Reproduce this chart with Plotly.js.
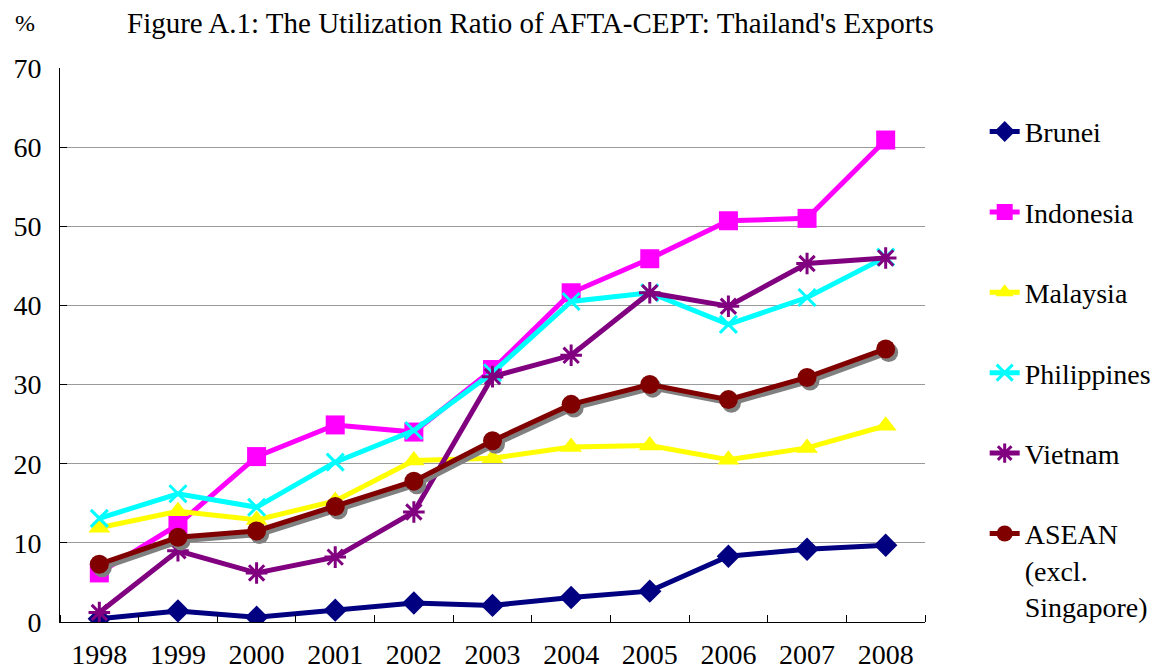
<!DOCTYPE html>
<html>
<head>
<meta charset="utf-8">
<script src="https://cdn.plot.ly/plotly-3.0.1.min.js"></script>
<style>
html,body{margin:0;padding:0;background:#fff;}
#chart{width:1165px;height:671px;}
#chart svg text{font-family:'Liberation Serif','Times New Roman',serif !important;}
</style>
</head>
<body>
<div id="chart"></div>
<script>
const years = [1998, 1999, 2000, 2001, 2002, 2003, 2004, 2005, 2006, 2007, 2008];
const brunei      = [0.4, 1.4, 0.6, 1.5, 2.4, 2.1, 3.1, 3.9, 8.3, 9.2, 9.7];
const indonesia   = [6.2, 12.3, 20.9, 24.9, 24.0, 31.9, 41.6, 45.9, 50.7, 51.0, 60.9];
const malaysia    = [11.9, 14.0, 12.9, 15.3, 20.4, 20.7, 22.1, 22.3, 20.5, 22.0, 24.8];
const philippines = [13.1, 16.2, 14.5, 20.2, 24.2, 31.5, 40.5, 41.6, 37.6, 41.0, 46.1];
const vietnam     = [1.2, 9.0, 6.2, 8.2, 13.9, 31.0, 33.7, 41.6, 39.9, 45.3, 46.0];
const asean       = [7.3, 10.7, 11.5, 14.6, 17.8, 22.9, 27.5, 30.0, 28.1, 30.9, 34.5];
const seriesNames = ['Brunei', 'Indonesia', 'Malaysia', 'Philippines', 'Vietnam', 'ASEAN<br>(excl.<br>Singapore)'];
const titleText = "Figure A.1: The Utilization Ratio of AFTA-CEPT: Thailand's Exports";

const FONT = 'Liberation Serif';

function tr(y, name, color, symbol, size, lw) {
  return {
    x: years, y: y, name: name, type: 'scatter', mode: 'lines+markers',
    legendgroup: name,
    line: {color: color, width: 5},
    marker: {symbol: symbol, size: size, color: color, line: {color: color, width: lw || 0}}
  };
}

const aseanMain = tr(asean, seriesNames[5], '#800000', 'circle', 19);
aseanMain.xaxis = 'x3'; aseanMain.yaxis = 'y3';

const traces = [
  tr(brunei, seriesNames[0], '#000080', 'diamond', 18),
  tr(indonesia, seriesNames[1], '#FF00FF', 'square', 19),
  tr(malaysia, seriesNames[2], '#FFFF00', 'triangle-up', 19),
  tr(philippines, seriesNames[3], '#00FFFF', 'x-thin-open', 17, 3),
  tr(vietnam, seriesNames[4], '#800080', 'asterisk-open', 18, 3),
  // drop shadow of the ASEAN series (same data, offset overlay axes)
  {x: years, y: asean, type: 'scatter', mode: 'lines+markers', xaxis: 'x2', yaxis: 'y2',
   showlegend: false, hoverinfo: 'skip',
   line: {color: '#808080', width: 5}, marker: {symbol: 'circle', size: 19, color: '#808080'}},
  aseanMain
];

const xr = [1997.5, 2008.5];
const yr = [0, 70];
const layout = {
  width: 1165, height: 671,
  margin: {l: 60, r: 240, t: 68, b: 49, autoexpand: false},
  paper_bgcolor: '#fff', plot_bgcolor: '#fff',
  font: {family: FONT, size: 28, color: '#000'},
  title: {text: titleText, x: 127/1165, xanchor: 'left', xref: 'container', y: 1 - 23/671, yanchor: 'middle', yref: 'container',
          font: {family: FONT, size: 29, color: '#000'}},
  showlegend: true,
  legend: {x: 1.069, xanchor: 'left', y: 0.93, yanchor: 'top', valign: 'top',
           font: {family: FONT, size: 28, color: '#000'}, tracegroupgap: 41, bgcolor: 'rgba(0,0,0,0)'},
  xaxis: {range: xr, tickvals: years, ticktext: years.map(String), ticks: '', showgrid: false,
          showline: true, linecolor: '#000', linewidth: 1, zeroline: false, fixedrange: true,
          tickfont: {family: FONT, size: 28, color: '#000'}, ticklabelstandoff: 7,
          minor: {tick0: 1997.5, dtick: 1, ticks: 'inside', ticklen: 7, tickcolor: '#000', showgrid: false}},
  yaxis: {range: yr, dtick: 10, ticks: 'inside', ticklen: 7, tickcolor: '#000', showgrid: true,
          gridcolor: '#9a9a9a', gridwidth: 1, showline: true, linecolor: '#000', linewidth: 1,
          zeroline: false, fixedrange: true, tickfont: {family: FONT, size: 28, color: '#000'}, ticklabelstandoff: 12},
  xaxis2: {overlaying: 'x', range: [xr[0] - 0.038, xr[1] - 0.038], visible: false, fixedrange: true},
  yaxis2: {overlaying: 'y', range: [yr[0] + 0.45, yr[1] + 0.45], visible: false, fixedrange: true},
  xaxis3: {overlaying: 'x', range: xr, visible: false, fixedrange: true},
  yaxis3: {overlaying: 'y', range: yr, visible: false, fixedrange: true},
  annotations: [{text: '%', xref: 'paper', yref: 'paper', x: (25 - 60) / 865, y: (622 - 23) / 554,
                 xanchor: 'center', yanchor: 'middle', showarrow: false, font: {family: FONT, size: 24, color: '#000'}}]
};

Plotly.newPlot('chart', traces, layout, {displayModeBar: false, staticPlot: true});
</script>
</body>
</html>
